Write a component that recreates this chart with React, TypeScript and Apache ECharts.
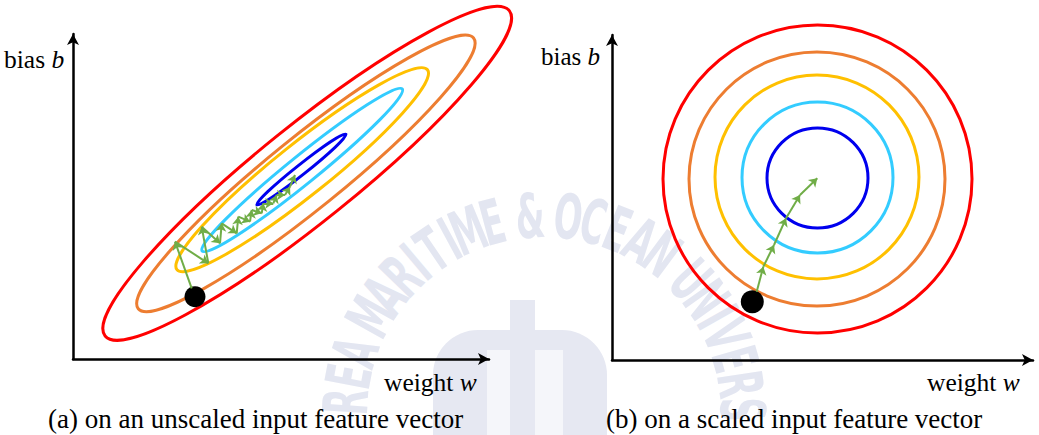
import React, { useEffect, useRef } from "react";
import * as echarts from "echarts";

const SERIF = '"Liberation Serif", "Times New Roman", "DejaVu Serif", serif';

// contour colours (outer -> inner)
const contourColors = ["#ff0000", "#ed7d31", "#ffc000", "#33ccff", "#0000ee"];

// (a) unscaled: tilted, elongated ellipses
const leftCenterW = [234.2, 232.9, 229.2, 229.2, 228.4];
const leftCenterB = [185.7, 185.6, 189.3, 189.0, 189.5];
const leftSemiMajor = [259.4, 215.5, 160.2, 128.8, 56.8];
const leftSemiMinor = [48, 36, 26, 14, 5];
const leftTiltDeg = [38.8, 38.9, 38.6, 39.0, 38.4];

// (b) scaled: concentric circles
const rightCenterW = [205.5, 205, 205, 205.5, 205.5];
const rightCenterB = [181, 181, 183, 182.5, 182];
const rightRadiusW = [154.5, 128, 102, 75.5, 50.5];
const rightRadiusB = [154, 127, 102, 75.5, 50];

// starting points (black dots)
const leftStart = [122, 62.3];
const rightStart = [140.3, 58.3];

// gradient-descent paths
const leftPathW = [118.7, 102, 135.3, 128.7, 147, 148.7, 163.7, 165.3, 177, 178.7, 188.7, 190.3, 200.3, 203.7, 212, 217, 222];
const leftPathB = [70.7, 117.3, 95.7, 132.3, 115.7, 135.7, 125.7, 142.3, 137.3, 149, 145.7, 155.7, 155.7, 164, 164, 172.3, 184];
const rightPathW = [144.7, 151.3, 162, 174, 188, 205.3];
const rightPathB = [68.3, 93.3, 115, 141.7, 165, 181.7];

// axis extents
const leftMaxW = 416;
const leftMaxB = 325;
const rightMaxW = 421;
const rightMaxB = 325;

const xLabel = "weight {i|w}";
const yLabel = "bias {i|b}";
const captionA = "(a) on an unscaled input feature vector";
const captionB = "(b) on a scaled input feature vector";
const watermarkText = "KOREA MARITIME & OCEAN UNIVERSITY";

function contourData(cw: number[], cb: number[], a: number[], b: number[], tilt: number[]) {
  return cw.map((w, i) => ({
    value: [w, cb[i], a[i], b[i], tilt[i]],
    itemStyle: { color: contourColors[i] },
  }));
}

function segments(ws: number[], bs: number[]) {
  const out: any[] = [];
  for (let i = 0; i < ws.length - 1; i++) {
    out.push({ coords: [[ws[i], bs[i]], [ws[i + 1], bs[i + 1]]] });
  }
  return out;
}

const renderEllipse = (params: any, api: any) => {
  const c = api.coord([api.value(0), api.value(1)]);
  const rx = api.size([api.value(2), 0])[0];
  const ry = api.size([0, api.value(3)])[1];
  const rot = (api.value(4) * Math.PI) / 180;
  return {
    type: "ellipse",
    x: c[0],
    y: c[1],
    rotation: rot,
    shape: { cx: 0, cy: 0, rx, ry },
    style: { fill: "none", stroke: api.visual("color"), lineWidth: 3 },
  };
};

const axisLineStyle = {
  show: true,
  symbol: ["none", "arrow"],
  symbolSize: [9, 11],
  lineStyle: { color: "#000", width: 2.5 },
};

function valueAxis(gridIndex: number, max: number) {
  return {
    gridIndex,
    type: "value",
    min: 0,
    max,
    axisLine: axisLineStyle,
    axisTick: { show: false },
    axisLabel: { show: false },
    splitLine: { show: false },
  };
}

function label(text: string, x: number, y: number, size: number) {
  return {
    type: "text",
    x,
    y,
    z: 20,
    style: {
      text,
      fontFamily: SERIF,
      fontSize: size,
      fill: "#000",
      textAlign: "left",
      textVerticalAlign: "middle",
      align: "left",
      verticalAlign: "middle",
      rich: {
        i: { fontFamily: SERIF, fontSize: size, fontStyle: "italic", fill: "#000" },
      },
    },
  };
}

function watermark() {
  const els: any[] = [];
  const cx = 544;
  const cy = 414;
  const r = 198;
  const widthOf = (ch: string) => (ch === " " ? 0.5 : ch === "I" ? 0.6 : 1);
  let pos = 0;
  watermarkText.split("").forEach((ch) => {
    const w = widthOf(ch);
    const mid = pos + w / 2;
    pos += w;
    if (ch === " ") return;
    const ang = ((-150.7 + (mid - 6.0) * 7.36) * Math.PI) / 180;
    const x = cx + r * Math.cos(ang);
    const y = cy + r * Math.sin(ang);
    if (y > 418) return;
    els.push({
      type: "text",
      x,
      y,
      rotation: -(ang + Math.PI / 2),
      scaleX: 0.6,
      z: -10,
      silent: true,
      style: {
        text: ch,
        fontFamily: '"Liberation Sans Narrow", "DejaVu Sans Condensed", "DejaVu Sans", sans-serif',
        fontWeight: "bold",
        fontSize: 62,
        fill: "#e3e6f1",
        textAlign: "center",
        textVerticalAlign: "middle",
        align: "center",
        verticalAlign: "middle",
      },
    });
  });
  const logo = "#e6e8f2";
  const gap = "#f5f6fa";
  els.push({ type: "rect", z: -10, silent: true, shape: { x: 433, y: 330, width: 174, height: 110, r: [45, 45, 0, 0] }, style: { fill: logo } });
  els.push({ type: "rect", z: -9, silent: true, shape: { x: 487, y: 350, width: 23, height: 90 }, style: { fill: gap } });
  els.push({ type: "rect", z: -9, silent: true, shape: { x: 535, y: 350, width: 28, height: 90 }, style: { fill: gap } });
  els.push({ type: "rect", z: -8, silent: true, shape: { x: 510, y: 300, width: 25, height: 140 }, style: { fill: logo } });
  return els;
}

const option: any = {
  animation: false,
  backgroundColor: "#ffffff",
  grid: [
    { left: 73, top: 359 - leftMaxB, width: leftMaxW, height: leftMaxB },
    { left: 612, top: 360 - rightMaxB, width: rightMaxW, height: rightMaxB },
  ],
  xAxis: [valueAxis(0, leftMaxW), valueAxis(1, rightMaxW)],
  yAxis: [valueAxis(0, leftMaxB), valueAxis(1, rightMaxB)],
  graphic: [
    ...watermark(),
    label(yLabel, 4, 59.5, 25.5),
    label(xLabel, 384, 382.5, 25.5),
    label(yLabel, 541, 56.5, 25),
    label(xLabel, 927, 382.5, 25.5),
    label(captionA, 48, 418.5, 27),
    label(captionB, 606, 418.5, 27),
  ],
  series: [
    {
      type: "custom",
      xAxisIndex: 0,
      yAxisIndex: 0,
      clip: false,
      renderItem: renderEllipse,
      encode: { x: 0, y: 1 },
      data: contourData(leftCenterW, leftCenterB, leftSemiMajor, leftSemiMinor, leftTiltDeg),
      z: 2,
    },
    {
      type: "custom",
      xAxisIndex: 1,
      yAxisIndex: 1,
      clip: false,
      renderItem: renderEllipse,
      encode: { x: 0, y: 1 },
      data: contourData(rightCenterW, rightCenterB, rightRadiusW, rightRadiusB, [0, 0, 0, 0, 0]),
      z: 2,
    },
    {
      type: "scatter",
      xAxisIndex: 0,
      yAxisIndex: 0,
      symbolSize: 21,
      itemStyle: { color: "#000", opacity: 1 },
      data: [leftStart],
      z: 4,
    },
    {
      type: "scatter",
      xAxisIndex: 1,
      yAxisIndex: 1,
      symbolSize: 23,
      itemStyle: { color: "#000", opacity: 1 },
      data: [rightStart],
      z: 4,
    },
    {
      type: "lines",
      coordinateSystem: "cartesian2d",
      xAxisIndex: 0,
      yAxisIndex: 0,
      symbol: ["none", "arrow"],
      symbolSize: 8,
      lineStyle: { color: "#70ad47", width: 2, opacity: 1 },
      data: segments(leftPathW, leftPathB),
      z: 5,
    },
    {
      type: "lines",
      coordinateSystem: "cartesian2d",
      xAxisIndex: 1,
      yAxisIndex: 1,
      symbol: ["none", "arrow"],
      symbolSize: 8,
      lineStyle: { color: "#70ad47", width: 2, opacity: 1 },
      data: segments(rightPathW, rightPathB),
      z: 5,
    },
  ],
};

export default function App() {
  const ref = useRef<HTMLDivElement>(null);
  useEffect(() => {
    const chart = echarts.init(ref.current!, null, { renderer: "svg" });
    chart.setOption(option);
    return () => chart.dispose();
  }, []);
  return (
    <div
      ref={ref}
      style={{ width: 1039, height: 435, position: "absolute", left: 0, top: 0 }}
    />
  );
}
